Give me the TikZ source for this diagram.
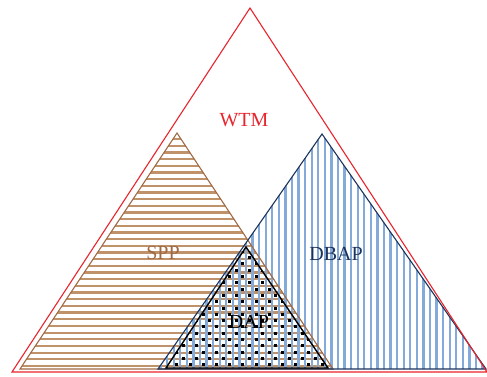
\documentclass[tikz,border=0pt]{standalone}
\usepackage{fontspec}
\setmainfont{Liberation Serif}

\definecolor{wtmred}{RGB}{232,36,44}
\definecolor{sppbrown}{RGB}{160,105,68}
\definecolor{spphatch}{RGB}{192,146,106}
\definecolor{dbapblue}{RGB}{28,52,92}
\definecolor{dbaphatch}{RGB}{132,170,218}

\tikzset{
  setlabel/.style={font=\fontsize{20}{24}\selectfont, inner sep=0pt},
  setedge/.style={line width=1.1pt, line join=miter},
}

\begin{document}
\begin{tikzpicture}[x=1pt,y=-1pt]
	\useasboundingbox (0,0) rectangle (487,377);
	% corners of the four sets
	\coordinate (W) at (250,8);
	\coordinate (W') at (12,372);
	\coordinate (W'') at (487,372);
	\coordinate (S) at (177,133);
	\coordinate (S') at (20,369);
	\coordinate (S'') at (333,369);
	\coordinate (B) at (322,134);
	\coordinate (B') at (158,369);
	\coordinate (B'') at (486,369);
	\coordinate (D) at (246,247);
	\coordinate (D') at (166,368);
	\coordinate (D'') at (328,368);
	%
	% horizontal hatching
	\begin{scope}
		\clip (S) -- (S') -- (S'') -- cycle;
		\foreach \k in {0,...,36}
			\draw[spphatch, line width=2.3pt] (0,{366-6.67*\k}) -- (487,{366-6.67*\k});
	\end{scope}
	% vertical hatching
	\begin{scope}
		\clip (B) -- (B') -- (B'') -- cycle;
		\foreach \k in {-16,...,35}
			\draw[dbaphatch, line width=2.3pt] ({384-6.57*\k},0) -- ({384-6.57*\k},377);
	\end{scope}
	% dots
	\begin{scope}
		\clip (D) -- (D') -- (D'') -- cycle;
		\foreach \j in {0,...,20}
			\foreach \i in {0,...,13}
				\fill[black] ({157+13.2*\i+6.6*mod(\j,2)-1.5},{371.3-6.33*\j-1.5}) rectangle +(3,3);
	\end{scope}
	%
	\draw[setedge, sppbrown] (S) -- (S') -- (S'') -- cycle;
	\draw[setedge, dbapblue] (B) -- (B') -- (B'') -- cycle;
	\draw[setedge, black, line width=1.4pt] (D) -- (D') -- (D'') -- cycle;
	\draw[setedge, wtmred] (W) -- (W') -- (W'') -- cycle;
	%
	\node[setlabel, text=wtmred] (wtm) at (244,120) {WTM};
	\node[setlabel, text=sppbrown] (spp) at (163,253) {SPP};
	\node[setlabel, text=dbapblue] (dbap) at (336,254) {DBAP};
	\node[setlabel, text=black] (dap) at (249,322) {DAP};
\end{tikzpicture}
\end{document}
